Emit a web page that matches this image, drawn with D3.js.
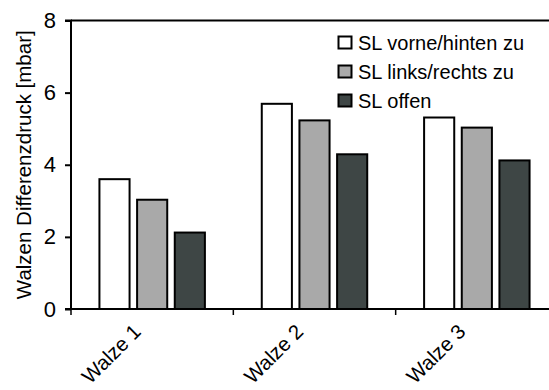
<!DOCTYPE html>
<html><head><meta charset="utf-8">
<script src="https://cdn.jsdelivr.net/npm/d3@7/dist/d3.min.js"></script>
<style>body{margin:0;background:#fff}svg{display:block}text{font-family:"Liberation Sans",Arial,sans-serif;fill:#000}</style>
</head><body><svg id="c" width="549" height="390"></svg>
<script>
const categories = ["Walze 1", "Walze 2", "Walze 3"];
const seriesNames = ["SL vorne/hinten zu", "SL links/rechts zu", "SL offen"];
const vorneHinten = [3.6, 5.69, 5.31];
const linksRechts = [3.03, 5.23, 5.03];
const offen = [2.12, 4.29, 4.12];
const yTicks = [0, 2, 4, 6, 8];
const colors = ["#ffffff", "#a9a9a9", "#3e4645"];

const seriesValues = [vorneHinten, linksRechts, offen];
const svg = d3.select("#c");
const L = 71, R = 558, T = 20.5, B = 309;

const y = d3.scaleLinear().domain([0, 8]).range([B, T]);
const x0 = d3.scaleBand().domain(categories).range([L, R]).padding(0);
const x1 = d3.scaleBand().domain(seriesNames).range([0, x0.bandwidth()]).paddingInner(0.2).paddingOuter(0.755);

// top border
svg.append("line").attr("x1", L).attr("x2", 549).attr("y1", T).attr("y2", T)
  .attr("stroke", "#000").attr("stroke-width", 2);

// bars
categories.forEach((c, i) => {
  seriesNames.forEach((s, j) => {
    const v = seriesValues[j][i];
    svg.append("rect")
      .attr("x", x0(c) + x1(s))
      .attr("y", y(v))
      .attr("width", x1.bandwidth())
      .attr("height", B - y(v))
      .attr("fill", colors[j])
      .attr("stroke", "#000").attr("stroke-width", 2);
  });
});

// y axis
const ya = svg.append("g").attr("transform", `translate(${L},0)`)
  .call(d3.axisLeft(y).tickValues(yTicks).tickSize(6).tickPadding(9).tickFormat(d3.format("d")));
ya.select(".domain").attr("stroke-width", 2).attr("d", `M-6,${T}H0V${B}H-6`);
ya.selectAll(".tick line").attr("stroke-width", 2);
ya.selectAll("text").style("font-size", "22px").attr("font-family", null);

// x axis
svg.append("line").attr("x1", L).attr("x2", 549).attr("y1", B).attr("y2", B)
  .attr("stroke", "#000").attr("stroke-width", 2);
const boundaries = categories.map(c => x0(c));
svg.selectAll(".xt").data(boundaries).enter().append("line")
  .attr("x1", d => d).attr("x2", d => d).attr("y1", B).attr("y2", B + 6)
  .attr("stroke", "#000").attr("stroke-width", 1.5);
svg.selectAll(".xl").data(categories).enter().append("text")
  .attr("transform", d => `translate(${x0(d) + x0.bandwidth() / 2 - 10},${B + 24}) rotate(-45)`)
  .attr("text-anchor", "end")
  .style("font-size", "20.5px")
  .text(d => d);

// y title
svg.append("text")
  .attr("transform", `translate(31,${(T + B) / 2}) rotate(-90)`)
  .attr("text-anchor", "middle")
  .style("font-size", "20.5px")
  .text("Walzen Differenzdruck [mbar]");

// legend
const lg = svg.append("g").attr("transform", "translate(338,36)");
seriesNames.forEach((s, j) => {
  const g = lg.append("g").attr("transform", `translate(0,${j * 29})`);
  g.append("rect").attr("x", 0.5).attr("y", 0.5).attr("width", 13).attr("height", 12)
    .attr("fill", colors[j]).attr("stroke", "#000").attr("stroke-width", 2);
  g.append("text").attr("x", 20).attr("y", 13.5).style("font-size", "20px").text(s);
});
</script></body></html>
